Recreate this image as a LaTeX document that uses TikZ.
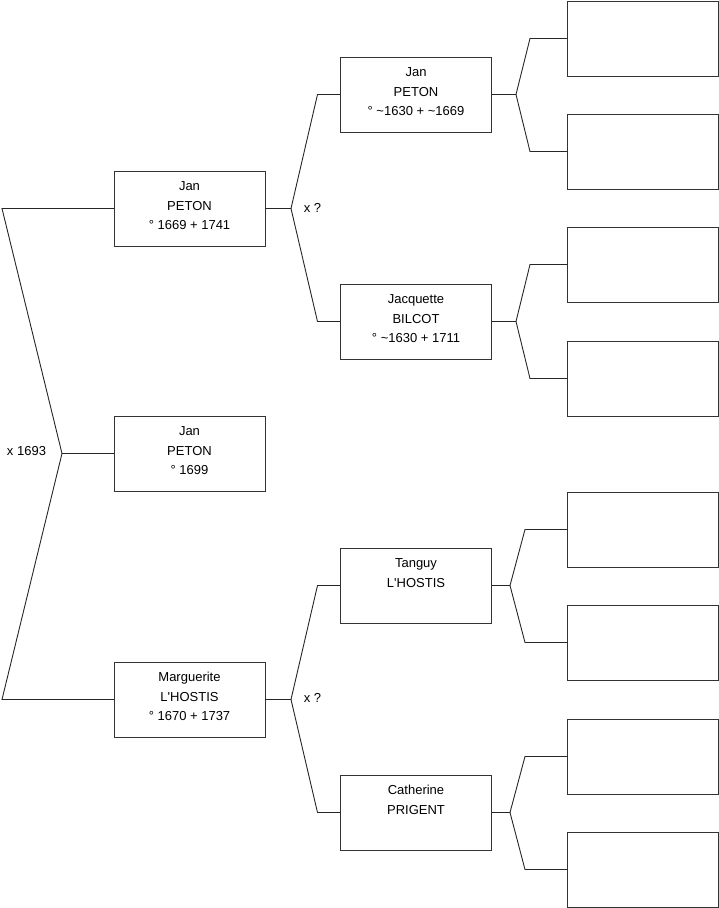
\documentclass[tikz,border=0pt]{standalone}
\usepackage{fontspec}
\setmainfont{Liberation Sans}
\usetikzlibrary{calc}
\newcommand{\pbx}[1]{\parbox[c][75pt][t]{150pt}{\centering\fontsize{13}{19.5}\selectfont\rule{0pt}{19.7pt}#1\par}}
\tikzset{
  pbox/.style={draw=black!80, line width=0.9pt, rectangle, minimum width=151pt, minimum height=75pt, inner sep=0pt, outer sep=0pt},
  link/.style={draw=black!85, line width=0.9pt, line join=miter},
  lbl/.style={font=\fontsize{13}{15}\selectfont, inner sep=0pt}
}
\begin{document}
\begin{tikzpicture}[x=1pt,y=-1pt]
\useasboundingbox (0,0) rectangle (719,908);
% generation 1
\node[pbox] (A) at (189.5,208.5) {\pbx{Jan\\PETON\\° 1669 + 1741}};
\node[pbox] (B) at (189.5,453.5) {\pbx{Jan\\PETON\\° 1699}};
\node[pbox] (C) at (189.5,699.5) {\pbx{Marguerite\\L\textquotesingle HOSTIS\\° 1670 + 1737}};
% generation 2
\node[pbox] (D) at (416,94.5) {\pbx{Jan\\PETON\\° \textasciitilde 1630 + \textasciitilde 1669}};
\node[pbox] (E) at (416,321.5) {\pbx{Jacquette\\BILCOT\\° \textasciitilde 1630 + 1711}};
\node[pbox] (F) at (416,585.5) {\pbx{Tanguy\\L\textquotesingle HOSTIS}};
\node[pbox] (G) at (416,812.5) {\pbx{Catherine\\PRIGENT}};
% generation 3
\node[pbox] (H1) at (642.5,38.5) {};
\node[pbox] (H2) at (642.5,151.5) {};
\node[pbox] (H3) at (642.5,264.5) {};
\node[pbox] (H4) at (642.5,378.5) {};
\node[pbox] (H5) at (642.5,529.5) {};
\node[pbox] (H6) at (642.5,642.5) {};
\node[pbox] (H7) at (642.5,756.5) {};
\node[pbox] (H8) at (642.5,869.5) {};
% junctions
\coordinate (j0) at (62,453.5);
\coordinate (jA) at (291,208.5);
\coordinate (jC) at (291,699.5);
\coordinate (jD) at (516,94.5);
\coordinate (jE) at (516,321.5);
\coordinate (jF) at (510,585.5);
\coordinate (jG) at (510,812.5);
% connectors
\draw[link] (A.west) -- ([xshift=-112pt]A.west) -- (j0) -- ([xshift=-112pt]C.west) -- (C.west);
\draw[link] (j0) -- (B.west);
\draw[link] (A.east) -- (jA);
\draw[link] (D.west) -- ([xshift=-23pt]D.west) -- (jA) -- ([xshift=-23pt]E.west) -- (E.west);
\draw[link] (C.east) -- (jC);
\draw[link] (F.west) -- ([xshift=-23pt]F.west) -- (jC) -- ([xshift=-23pt]G.west) -- (G.west);
\draw[link] (D.east) -- (jD);
\draw[link] (H1.west) -- ([xshift=-37pt]H1.west) -- (jD) -- ([xshift=-37pt]H2.west) -- (H2.west);
\draw[link] (E.east) -- (jE);
\draw[link] (H3.west) -- ([xshift=-37pt]H3.west) -- (jE) -- ([xshift=-37pt]H4.west) -- (H4.west);
\draw[link] (F.east) -- (jF);
\draw[link] (H5.west) -- ([xshift=-42pt]H5.west) -- (jF) -- ([xshift=-42pt]H6.west) -- (H6.west);
\draw[link] (G.east) -- (jG);
\draw[link] (H7.west) -- ([xshift=-42pt]H7.west) -- (jG) -- ([xshift=-42pt]H8.west) -- (H8.west);
% labels
\node[lbl] (m0) at (26.5,451) {x 1693};
\node[lbl] (mA) at (312.5,207.5) {x ?};
\node[lbl] (mC) at (312.5,698) {x ?};
\end{tikzpicture}
\end{document}
